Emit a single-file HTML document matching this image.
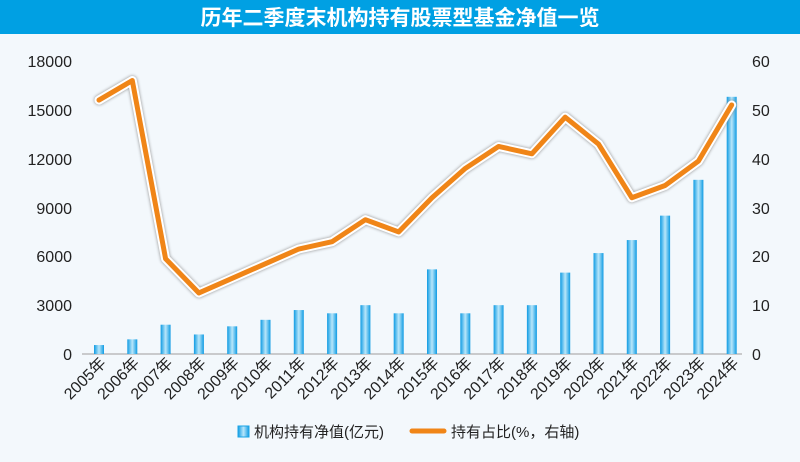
<!DOCTYPE html>
<html><head><meta charset="utf-8"><style>
body{margin:0;width:800px;height:457px;overflow:hidden;background:#f3f8fc;font-family:"Liberation Sans","Noto Sans CJK SC",sans-serif}
</style></head><body>
<svg width="800" height="457" xmlns="http://www.w3.org/2000/svg" font-family="Liberation Sans, Noto Sans CJK SC, sans-serif">
<defs>
<linearGradient id="bg" x1="0" x2="1" y1="0" y2="0">
<stop offset="0" stop-color="#0e9be3"/><stop offset="0.5" stop-color="#b8e6fa"/><stop offset="1" stop-color="#0e9be3"/>
</linearGradient>
</defs>
<rect x="0" y="0" width="800" height="457" fill="#f3f8fc"/>
<rect x="0" y="0" width="800" height="34" fill="#00a0e3"/>
<text x="400" y="25" text-anchor="middle" font-size="21" font-weight="bold" fill="#fff">历年二季度末机构持有股票型基金净值一览</text>
<g font-size="16" fill="#222">
<text x="72" y="67" text-anchor="end">18000</text>
<text x="72" y="116" text-anchor="end">15000</text>
<text x="72" y="165" text-anchor="end">12000</text>
<text x="72" y="214" text-anchor="end">9000</text>
<text x="72" y="262" text-anchor="end">6000</text>
<text x="72" y="311" text-anchor="end">3000</text>
<text x="72" y="360" text-anchor="end">0</text>
<text x="752" y="67">60</text>
<text x="752" y="116">50</text>
<text x="752" y="165">40</text>
<text x="752" y="214">30</text>
<text x="752" y="262">20</text>
<text x="752" y="311">10</text>
<text x="752" y="360">0</text>
</g>
<line x1="82" y1="354" x2="742" y2="354" stroke="#bbb" stroke-width="1.5"/>
<g id="bars"></g>
<g id="labels" font-size="16" fill="#222"></g>
<polyline id="ls" fill="none" stroke="#fff" stroke-width="9" stroke-linejoin="round" stroke-linecap="round" style="filter:drop-shadow(0 0 1.5px #888)"/>
<polyline id="l" fill="none" stroke="#f08517" stroke-width="5" stroke-linejoin="round" stroke-linecap="round"/>
<rect x="238" y="426" width="11" height="11" fill="url(#bg)" stroke="#1aa3e6"/>
<text x="254" y="437" font-size="15" fill="#222">机构持有净值(亿元)</text>
<line x1="412" y1="431" x2="444" y2="431" stroke="#f08517" stroke-width="5" stroke-linecap="round"/>
<text x="451" y="437" font-size="15" fill="#222">持有占比(%，右轴)</text>
</svg>
<script>
var v=[550,900,1800,1200,1700,2100,2700,2500,3000,2500,5200,2500,3000,3000,5000,6200,7000,8500,10700,15800];
var p=[52,56,19.5,12.5,15.5,18.5,21.5,23,27.5,25,32,38,42.5,41,48.5,43,32,34.5,39.5,51];
var b=document.getElementById('bars'),lb=document.getElementById('labels'),pts=[];
var ns="http://www.w3.org/2000/svg";
for(var i=0;i<20;i++){var x=99+i*33.3;var h=v[i]*293/18000;
var r=document.createElementNS(ns,'rect');r.setAttribute('x',x-5);r.setAttribute('y',354-h);r.setAttribute('width',10);r.setAttribute('height',h);r.setAttribute('fill','url(#bg)');b.appendChild(r);
var t=document.createElementNS(ns,'text');t.setAttribute('transform','translate('+(x+8)+',364) rotate(-45)');t.setAttribute('text-anchor','end');t.textContent=(2005+i)+'年';lb.appendChild(t);
pts.push(x+','+(354-p[i]*293/60));}
document.getElementById('l').setAttribute('points',pts.join(' '));
document.getElementById('ls').setAttribute('points',pts.join(' '));
</script>
</body></html>
